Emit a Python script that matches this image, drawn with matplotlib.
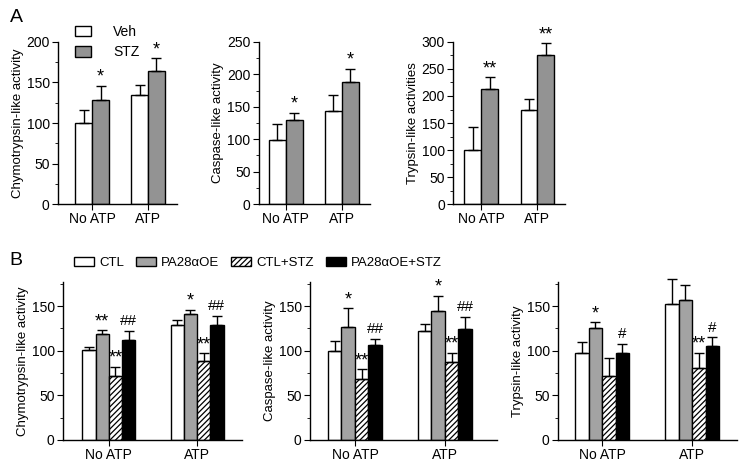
import numpy as np
import matplotlib
matplotlib.use("Agg")
import matplotlib.pyplot as plt
from matplotlib.ticker import MultipleLocator
from matplotlib.patches import Patch

plt.rcParams.update({
    "font.family": ["Liberation Sans", "DejaVu Sans"],
    "font.size": 9.5,
    "axes.linewidth": 1.0,
    "axes.spines.top": False,
    "axes.spines.right": False,
    "xtick.direction": "out",
    "ytick.direction": "out",
    "xtick.labelsize": 10,
    "ytick.labelsize": 10,
    "xtick.major.size": 4,
    "ytick.major.size": 4,
    "ytick.minor.size": 2.5,
    "hatch.linewidth": 0.9,
})

# ---- panel A data ----
groups = ["No ATP", "ATP"]
a_labels = ["Chymotrypsin-like activity", "Caspase-like activity", "Trypsin-like activities"]
a_ylims = [200, 250, 300]
veh_mean = [[100, 135], [99, 144], [100, 175]]
veh_err = [[16, 12], [24, 24], [42, 19]]
stz_mean = [[128, 164], [130, 189], [213, 275]]
stz_err = [[18, 16], [11, 20], [22, 23]]
stz_marks = [["*", "*"], ["*", "*"], ["**", "**"]]

# ---- panel B data ----
b_labels = ["Chymotrypsin-like activity", "Caspase-like activity", "Trypsin-like activity"]
b_series = ["CTL", "PA28\u03b1OE", "CTL+STZ", "PA28\u03b1OE+STZ"]
ctl_mean = [[100.7, 129], [100, 122], [98, 152.5]]
ctl_err = [[3.5, 6], [11, 7.5], [11.5, 27.5]]
pa_mean = [[118.5, 141], [126.5, 145], [126, 157]]
pa_err = [[4.5, 5], [21, 16.5], [6, 17]]
ctlstz_mean = [[72, 88], [68, 87], [71.5, 81]]
ctlstz_err = [[10, 9], [11, 10.7], [20, 17]]
pastz_mean = [[112, 128.5], [106, 124], [97, 105]]
pastz_err = [[10, 10.5], [7.5, 14], [11, 10]]
pa_marks = [["**", "*"], ["*", "*"], ["*", ""]]
ctlstz_marks = [["**", "**"], ["**", "**"], ["", "**"]]
pastz_marks = [["##", "##"], ["##", "##"], ["#", "#"]]

GRAY_A = "#939393"
GRAY_B = "#a3a3a3"
HATCH = "//////"

fig = plt.figure(figsize=(7.44, 4.66), dpi=100)

a_boxes = [(0.078, 0.160), (0.348, 0.149), (0.609, 0.151)]
a_xlims = [(-0.61, 1.52), (-0.48, 1.5), (-0.5, 1.5)]
b_boxes = [(0.0847, 0.2406), (0.4167, 0.2513), (0.75, 0.2406)]
b_xlims = [(-0.52, 1.51), (-0.5, 1.58), (-0.49, 1.5)]


def bars_with_err(ax, xs, mean, err, marks, w, **kw):
    ax.bar(xs, mean, width=w, edgecolor="black", linewidth=1.0, zorder=2, **kw)
    eb = ax.errorbar(xs, mean, yerr=[np.zeros(len(err)), err], fmt="none",
                     ecolor="black", elinewidth=1.0, capsize=3.5, capthick=1.0,
                     zorder=3)
    for art in eb.lines[1] + eb.lines[2]:
        art.set_clip_on(False)
    if marks is None:
        return
    for x, m, e, s in zip(xs, mean, err, marks):
        if s:
            fs = 13 if "*" in s else 11
            ax.annotate(s, (x, m + e), xytext=(0, 0 if "*" in s else 2),
                        textcoords="offset points", ha="center", va="bottom",
                        fontsize=fs, annotation_clip=False)


x = np.arange(len(groups))

# panel A
for i in range(3):
    left, width = a_boxes[i]
    ax = fig.add_axes([left, 0.562, width, 0.348])
    w = 0.30
    bars_with_err(ax, x - w / 2, veh_mean[i], veh_err[i], None, w, color="white")
    bars_with_err(ax, x + w / 2, stz_mean[i], stz_err[i], stz_marks[i], w,
                  color=GRAY_A)
    ax.set_ylim(0, a_ylims[i])
    ax.set_xlim(*a_xlims[i])
    ax.yaxis.set_major_locator(MultipleLocator(50))
    ax.yaxis.set_minor_locator(MultipleLocator(25))
    ax.set_xticks(x)
    ax.set_xticklabels(groups)
    ax.set_ylabel(a_labels[i], labelpad=2)
    ax.tick_params(axis="both", pad=2)
    if i == 0:
        ax.legend(handles=[Patch(facecolor="white", edgecolor="black", label="Veh"),
                           Patch(facecolor=GRAY_A, edgecolor="black", label="STZ")],
                  loc="upper left", bbox_to_anchor=(0.1, 1.14), frameon=False,
                  fontsize=10, handlelength=1.1, handleheight=0.8,
                  handletextpad=1.6, labelspacing=0.45, borderaxespad=0)

# panel B
for i in range(3):
    left, width = b_boxes[i]
    ax = fig.add_axes([left, 0.0558, width, 0.339])
    w = 0.15
    bars_with_err(ax, x - 1.5 * w, ctl_mean[i], ctl_err[i], None, w, color="white")
    bars_with_err(ax, x - 0.5 * w, pa_mean[i], pa_err[i], pa_marks[i], w, color=GRAY_B)
    bars_with_err(ax, x + 0.5 * w, ctlstz_mean[i], ctlstz_err[i], ctlstz_marks[i], w,
                  color="white", hatch=HATCH)
    bars_with_err(ax, x + 1.5 * w, pastz_mean[i], pastz_err[i], pastz_marks[i], w,
                  color="black")
    ax.set_ylim(0, 177)
    ax.set_xlim(*b_xlims[i])
    ax.yaxis.set_major_locator(MultipleLocator(50))
    ax.yaxis.set_minor_locator(MultipleLocator(25))
    ax.set_xticks(x)
    ax.set_xticklabels(groups)
    ax.set_ylabel(b_labels[i], labelpad=2)
    ax.tick_params(axis="both", pad=2)

fig.legend(handles=[Patch(facecolor="white", edgecolor="black", label=b_series[0]),
                    Patch(facecolor=GRAY_B, edgecolor="black", label=b_series[1]),
                    Patch(facecolor="white", edgecolor="black", hatch=HATCH,
                          label=b_series[2]),
                    Patch(facecolor="black", edgecolor="black", label=b_series[3])],
           loc="center left", bbox_to_anchor=(0.1, 0.436), ncol=4, frameon=False,
           fontsize=9.5, handlelength=1.5, handleheight=0.7, handletextpad=0.4,
           columnspacing=0.9, borderaxespad=0, borderpad=0)

fig.text(0.013, 0.963, "A", fontsize=14, va="center")
fig.text(0.013, 0.44, "B", fontsize=14, va="center")

fig.savefig("out.png", dpi=100)
